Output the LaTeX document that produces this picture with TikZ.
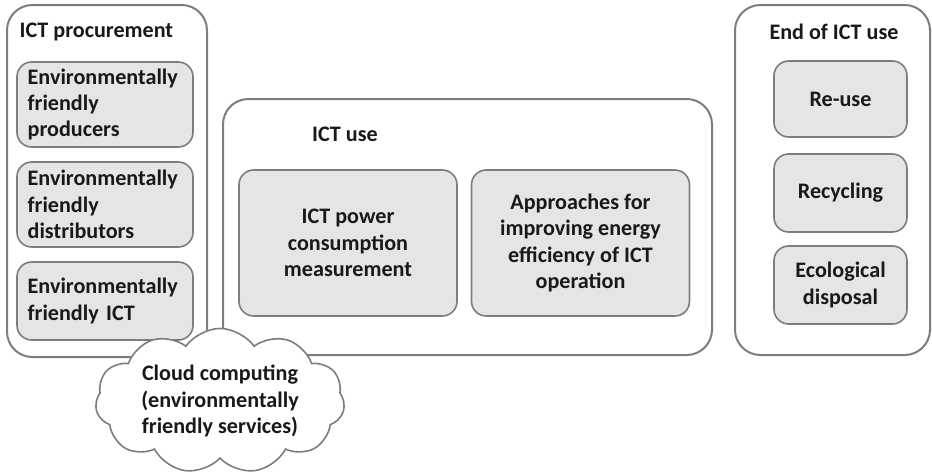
\documentclass[tikz,border=0pt]{standalone}
\usepackage{fontspec}
\setmainfont{Carlito}
\usetikzlibrary{shapes.symbols}

\definecolor{linegray}{RGB}{125,125,125}
\definecolor{itemgray}{RGB}{229,229,229}

\tikzset{
	txt/.style={font=\bfseries\fontsize{16.6}{19.8}\selectfont, text=black!90},
	group/.style={draw=linegray, line width=1.5pt, rounded corners=19pt, fill=white},
	item/.style={txt, draw=linegray, line width=1.2pt, rounded corners=11pt, fill=itemgray, align=center},
	leftitem/.style={item, align=left, inner sep=0pt, text width=116pt},
}

\begin{document}
\begin{tikzpicture}[x=0.75pt, y=-0.75pt]
	\useasboundingbox (0,0) rectangle (932,472);
	
	% the three outer groups
	\node[group, minimum width=150pt, minimum height=264pt] (procurement) at (107,181) {};
	\node[group, minimum width=366.75pt, minimum height=192pt] (use) at (467.5,227) {};
	\node[group, minimum width=146.25pt, minimum height=262.5pt] (end) at (832.5,180) {};
	
	\node[txt, anchor=west] (procTitle) at (15,32) {ICT procurement};
	\node[txt] (useTitle) at (345,134) {ICT use};
	\node[txt] (endTitle) at (834,32) {End of ICT use};
	
	% ICT procurement
	\node[leftitem, minimum width=132pt, minimum height=63.75pt] (producers) at (105,104.5) {Environmentally\\friendly\\producers};
	\node[leftitem, minimum width=132pt, minimum height=63.75pt] (distributors) at (105,204.5) {Environmentally\\friendly\\distributors};
	\node[leftitem, minimum width=132pt, minimum height=58.5pt] (friendlyICT) at (105,301) {Environmentally\\\mbox{friendly ICT}};
	
	% ICT use
	\node[item, minimum width=163.5pt, minimum height=109.5pt] (power) at (348,243) {ICT power\\consumption\\measurement};
	\node[item, minimum width=163.5pt, minimum height=109.5pt] (approaches) at (580.5,243) {Approaches for\\improving energy\\efficiency of ICT\\operation};
	
	% End of ICT use
	\node[item, minimum width=99.75pt, minimum height=57pt] (reuse) at (840.5,99) {Re-use};
	\node[item, minimum width=99.75pt, minimum height=58.5pt] (recycling) at (840.5,193) {Recycling};
	\node[item, minimum width=99.75pt, minimum height=58.5pt] (disposal) at (840.5,285) {Ecological\\disposal};
	
	% cloud on top of both groups
	\node[txt, cloud, cloud puffs=11, cloud puff arc=110, aspect=1.9, draw=linegray, line width=1.2pt, fill=white, align=center, minimum width=187pt, minimum height=96pt, inner sep=0pt] (cloud) at (220,401) {Cloud computing\\(environmentally\\friendly services)};
	
\end{tikzpicture}
\end{document}
